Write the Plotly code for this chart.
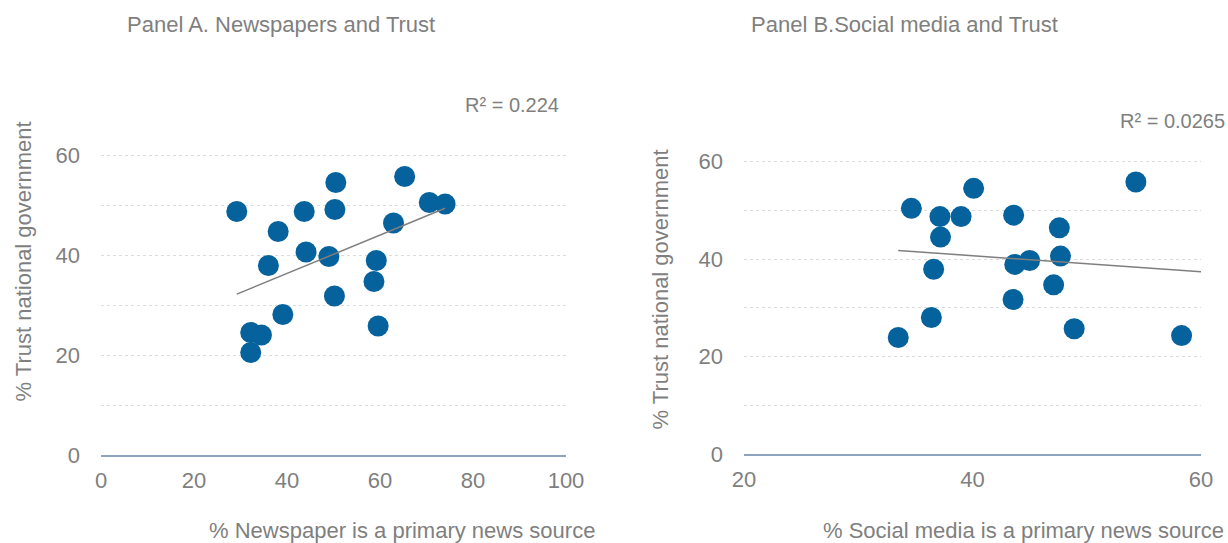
import numpy as np
import plotly.graph_objects as go

# Panel A: newspapers vs trust
news_pct = [29.2, 32.2, 34.5, 32.2, 36.0, 38.1, 39.1, 43.7, 44.1, 49.0,
            50.3, 50.5, 50.2, 59.2, 58.7, 59.6, 62.9, 65.3, 70.6, 74.0]
trust_a = [48.7, 24.5, 24.0, 20.5, 37.9, 44.7, 28.1, 48.7, 40.6, 39.7,
           49.1, 54.5, 31.8, 38.9, 34.7, 25.8, 46.4, 55.7, 50.5, 50.2]

# Panel B: social media vs trust
social_pct = [33.5, 34.65, 37.15, 37.2, 36.6, 36.4, 39.0, 40.1, 43.6, 43.7,
              45.0, 43.55, 47.6, 47.7, 47.1, 48.9, 54.3, 58.3]
trust_b = [23.9, 50.4, 48.7, 44.5, 37.9, 28.0, 48.7, 54.5, 49.0, 38.9,
           39.7, 31.7, 46.4, 40.6, 34.7, 25.7, 55.8, 24.3]

title_a = "Panel A. Newspapers and Trust"
title_b = "Panel B.Social media and Trust"
xtitle_a = "% Newspaper is a primary news source"
xtitle_b = "% Social media is a primary news source"
ytitle = "% Trust national government"
r2_a = "R² = 0.224"
r2_b = "R² = 0.0265"

W, H = 1228, 543
FONT = "Liberation Sans, Arial, sans-serif"
GRAY = "#7f7f7f"
DOT = "#05629c"

def px(x):
    return x / W

def py(y):
    return 1 - y / H

fig = go.Figure()

fig.add_trace(go.Scatter(x=news_pct, y=trust_a, mode="markers",
                         marker=dict(color=DOT, size=21), xaxis="x", yaxis="y",
                         showlegend=False))
fig.add_trace(go.Scatter(x=social_pct, y=trust_b, mode="markers",
                         marker=dict(color=DOT, size=21), xaxis="x2", yaxis="y2",
                         showlegend=False))

# trend lines (least squares fit of the data)
ka, ba = np.polyfit(news_pct, trust_a, 1)
xa = np.array([min(news_pct), max(news_pct)])
fig.add_trace(go.Scatter(x=xa, y=ka * xa + ba, mode="lines",
                         line=dict(color="#7f7f7f", width=1.5),
                         xaxis="x", yaxis="y", showlegend=False, hoverinfo="skip"))
kb, bb = np.polyfit(social_pct, trust_b, 1)
xb = np.array([min(social_pct), 60])
fig.add_trace(go.Scatter(x=xb, y=kb * xb + bb, mode="lines",
                         line=dict(color="#7f7f7f", width=1.5),
                         xaxis="x2", yaxis="y2", showlegend=False, hoverinfo="skip"))

tickfont = dict(family=FONT, size=22, color=GRAY)

def yaxis_cfg(top_px, bottom_px, anchor):
    return dict(range=[0, 66], domain=[py(bottom_px), py(top_px)], anchor=anchor,
                tickvals=[0, 20, 40, 60], showgrid=True, gridcolor="#dcdcdc",
                griddash="dot", gridwidth=1, zeroline=False, showline=False,
                ticks="", tickfont=tickfont, ticklabelstandoff=20, automargin=False,
                minor=dict(tickvals=[10, 30, 50], showgrid=True, gridcolor="#dcdcdc",
                           griddash="dot", gridwidth=1))

def xaxis_cfg(left_px, right_px, rng, dtick, anchor):
    return dict(range=rng, domain=[px(left_px), px(right_px)], anchor=anchor,
                dtick=dtick, showgrid=False, zeroline=False, showline=True,
                linecolor="#8ea3bc", linewidth=2, ticks="", tickfont=tickfont,
                ticklabelstandoff=5, automargin=False)

# Panel A: 0 at y=455, 60 at y=155 -> 66 at 125
# Panel B: 0 at y=454, 60 at y=161 -> 66 at 132
fig.update_layout(
    width=W, height=H,
    margin=dict(l=0, r=0, t=0, b=0),
    paper_bgcolor="white", plot_bgcolor="white",
    xaxis=xaxis_cfg(101, 566, [0, 100], 20, "y"),
    yaxis=yaxis_cfg(125, 455, "x"),
    xaxis2=xaxis_cfg(744, 1201, [20, 60], 20, "y2"),
    yaxis2=yaxis_cfg(132.3, 454, "x2"),
    font=dict(family=FONT, color=GRAY),
)

ann = []
def add_text(text, x, y, xanchor="center", size=22, angle=0):
    ann.append(dict(text=text, x=px(x), y=py(y), xref="paper", yref="paper",
                    xanchor=xanchor, yanchor="middle", showarrow=False,
                    textangle=angle, font=dict(family=FONT, size=size, color=GRAY)))

add_text(title_a, 125, 25, "left", 22)
add_text(title_b, 749, 25, "left", 22)
add_text(xtitle_a, 402, 530, "center", 22)
add_text(xtitle_b, 1023, 530, "center", 22)
add_text(ytitle, 8, 262, "left", 22, -90)
add_text(ytitle, 645, 290, "left", 22, -90)
add_text(r2_a, 561, 105, "right", 20)
add_text(r2_b, 1227, 121, "right", 20)

fig.update_layout(annotations=ann)

fig.write_html(
    "out.html",
    config={"displayModeBar": False},
    post_script="document.body.style.margin='0';document.body.style.overflow='hidden';",
)
